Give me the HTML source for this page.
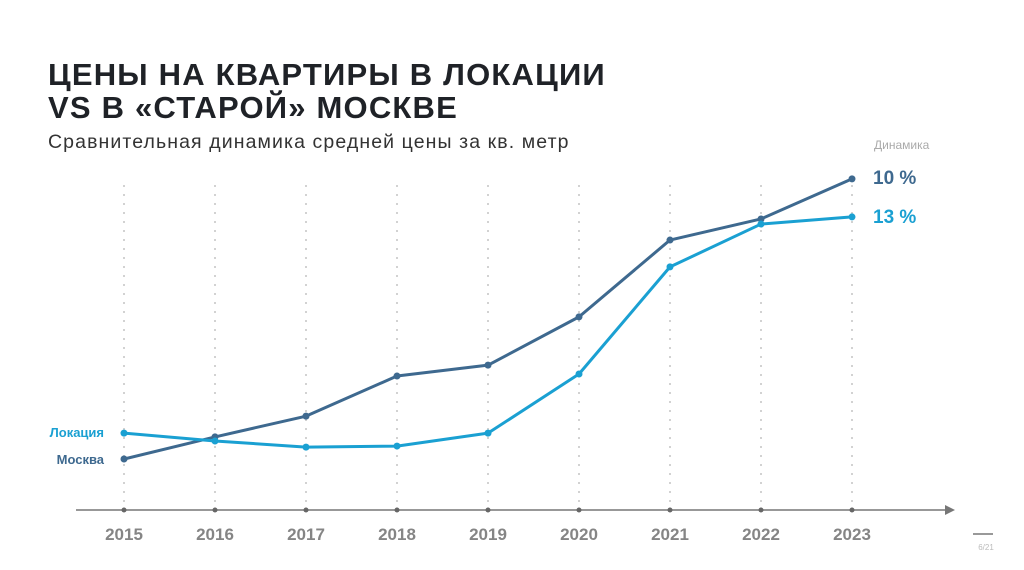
<!DOCTYPE html>
<html><head><meta charset="utf-8">
<style>
body{margin:0;width:1024px;height:570px;background:#fff;overflow:hidden;font-family:"Liberation Sans","Noto Sans CJK SC",sans-serif;position:relative}
.t{position:absolute;left:48px;top:58px;font-size:31px;font-weight:bold;color:#1f2227;line-height:33px;letter-spacing:1.2px}
.s{position:absolute;left:48px;top:131px;font-size:19.5px;color:#333;letter-spacing:1.1px}
svg{position:absolute;left:0;top:0}
</style></head><body>
<div class="t">ЦЕНЫ НА КВАРТИРЫ В ЛОКАЦИИ<br>VS В «СТАРОЙ» МОСКВЕ</div>
<div class="s">Сравнительная динамика средней цены за кв. метр</div>
<svg id="c" width="1024" height="570"></svg>
<script>
const years=["2015","2016","2017","2018","2019","2020","2021","2022","2023"];
const moscow=[15,21.5,27.6,39.4,42.6,56.8,79.4,85.6,97.4];
const location_=[22.6,20.3,18.5,18.8,22.6,40,71.5,84.1,86.2];
const dynLabels=["10 %","13 %"];
const ns="http://www.w3.org/2000/svg",svg=document.getElementById('c');
const X=i=>124+i*91, Y=v=>510-v*3.4;
function mk(t,a,txt){const e=document.createElementNS(ns,t);for(const k in a)e.setAttribute(k,a[k]);if(txt!=null)e.textContent=txt;svg.appendChild(e);return e;}
years.forEach((y,i)=>{
 let g=mk('line',{x1:X(i),x2:X(i),y1:185,y2:510,stroke:'#c4c4c4','stroke-width':1.5,'stroke-dasharray':'2,7'});
 
 
});
let ax=mk('line',{x1:76,x2:945,y1:510,y2:510,stroke:'#777','stroke-width':1.5});


let ar=mk('polygon',{points:'945,505 955,510 945,515',fill:'#777'});


years.forEach((y,i)=>{
 let d=mk('circle',{cx:X(i),cy:510,r:2.5,fill:'#666'});
 
 
 let t=mk('text',{x:X(i),y:540,'text-anchor':'middle','font-size':17,'font-weight':'bold',fill:'#858585'},y);
 
 
});
function series(arr,col,name){
 let p=mk('polyline',{points:arr.map((v,i)=>X(i)+','+Y(v)).join(' '),fill:'none',stroke:col,'stroke-width':3,'stroke-linejoin':'round'});
 
 
 arr.forEach((v,i)=>{
  let c=mk('circle',{cx:X(i),cy:Y(v),r:3.5,fill:col});
  
  
 });
}
series(moscow,'#3e698f','moscow');
series(location_,'#1aa0d2','location');
let l1=mk('text',{x:104,y:Y(location_[0])+4,'text-anchor':'end','font-size':13,'font-weight':'bold',fill:'#1aa0d2'},'Локация');


let l2=mk('text',{x:104,y:Y(moscow[0])+5,'text-anchor':'end','font-size':13,'font-weight':'bold',fill:'#3e698f'},'Москва');


let dh=mk('text',{x:874,y:149,'font-size':12,fill:'#aaa'},'Динамика');


let d1=mk('text',{x:873,y:Y(moscow[8])+5,'font-size':19,'font-weight':'bold',fill:'#3e698f'},dynLabels[0]);


let d2=mk('text',{x:873,y:Y(location_[8])+6,'font-size':19,'font-weight':'bold',fill:'#1aa0d2'},dynLabels[1]);


let pl=mk('line',{x1:973,x2:993,y1:534,y2:534,stroke:'#333','stroke-width':1});


let pn=mk('text',{x:986,y:550,'text-anchor':'middle','font-size':8,fill:'#bbb'},'6/21');


</script>
</body></html>
